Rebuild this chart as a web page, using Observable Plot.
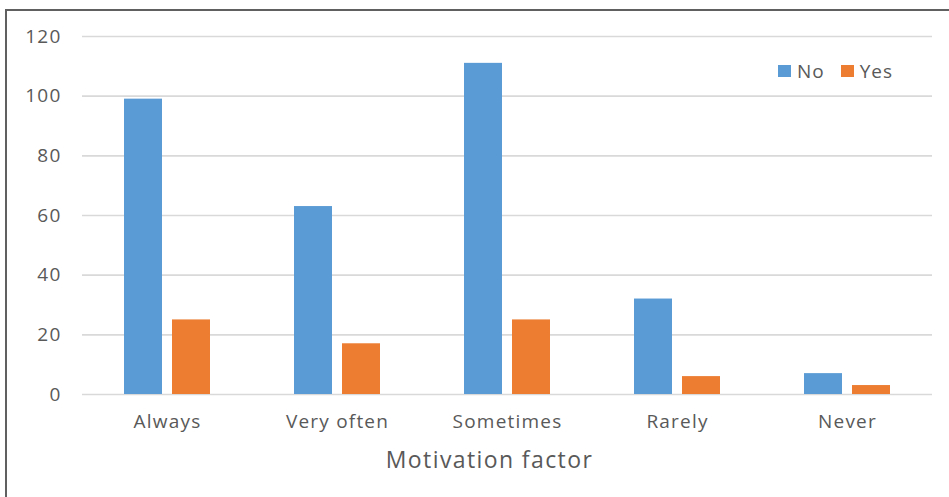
<!DOCTYPE html>
<html>
<head>
<meta charset="utf-8">
<script src="https://cdn.jsdelivr.net/npm/d3@7"></script>
<script src="https://cdn.jsdelivr.net/npm/@observablehq/plot@0.6"></script>
<style>
  html, body { margin: 0; padding: 0; background: #fff; }
  #wrap { position: relative; width: 949px; height: 497px; overflow: hidden; font-family: "Open Sans", sans-serif; color: #595959; }
  #frame { position: absolute; left: 5px; top: 9px; width: 1000px; height: 600px; border-top: 2px solid #606060; border-left: 2px solid #606060; }
  #chart { position: absolute; left: 0; top: 0; }
  #chart svg text { letter-spacing: 1.2px; }
  #legend { position: absolute; left: 778px; top: 58px; display: flex; align-items: center; font-size: 19px; letter-spacing: 1px; }
  #legend .item { display: flex; align-items: center; margin-right: 16px; }
  #legend .sw { width: 13px; height: 12px; margin-right: 6px; }
</style>
</head>
<body>
<div id="wrap">
  <div id="frame"></div>
  <div id="chart"></div>
  <div id="legend"></div>
</div>
<script>
// Survey responses per motivation frequency
const categories = ["Always", "Very often", "Sometimes", "Rarely", "Never"];
const seriesNames = ["No", "Yes"];
const noValues = [99, 63, 111, 32, 7];
const yesValues = [25, 17, 25, 6, 3];
const yTicks = [0, 20, 40, 60, 80, 100, 120];
const seriesColors = ["#5B9BD5", "#ED7D31"];
const xTitle = "Motivation factor";

const rows = [];
categories.forEach((c, i) => {
  rows.push({category: c, series: "No", value: noValues[i]});
  rows.push({category: c, series: "Yes", value: yesValues[i]});
});

const plot = Plot.plot({
  width: 949,
  height: 497,
  marginLeft: 82,
  marginRight: 17,
  marginTop: 36,
  marginBottom: 103,
  style: {fontFamily: "Open Sans, sans-serif", fontSize: "19px", color: "#595959", background: "transparent", overflow: "visible"},
  fx: {domain: categories, padding: 0, round: false, label: null, tickSize: 0, tickPadding: 20, axis: "bottom"},
  x: {domain: seriesNames, paddingInner: 10 / 48, paddingOuter: 0.875, round: false, axis: null},
  y: {domain: [0, 120], ticks: yTicks, tickSize: 0, tickPadding: 21, label: null, axis: "left"},
  color: {domain: seriesNames, range: seriesColors},
  marks: [
    Plot.ruleY(yTicks, {stroke: "#d9d9d9", strokeWidth: 1.6}),
    Plot.barY(rows, {fx: "category", x: "series", y: "value", fill: "series"})
  ]
});
document.getElementById("chart").appendChild(plot);

// Axis title under the category labels
d3.select(plot).append("text")
  .attr("x", 489.5)
  .attr("y", 468)
  .attr("text-anchor", "middle")
  .attr("fill", "#595959")
  .style("font-size", "23px")
  .style("letter-spacing", "1.4px")
  .text(xTitle);

// Series legend
const legend = d3.select("#legend");
seriesNames.forEach((s, i) => {
  const item = legend.append("div").attr("class", "item");
  item.append("div").attr("class", "sw").style("background", seriesColors[i]);
  item.append("span").text(s);
});
</script>
</body>
</html>
